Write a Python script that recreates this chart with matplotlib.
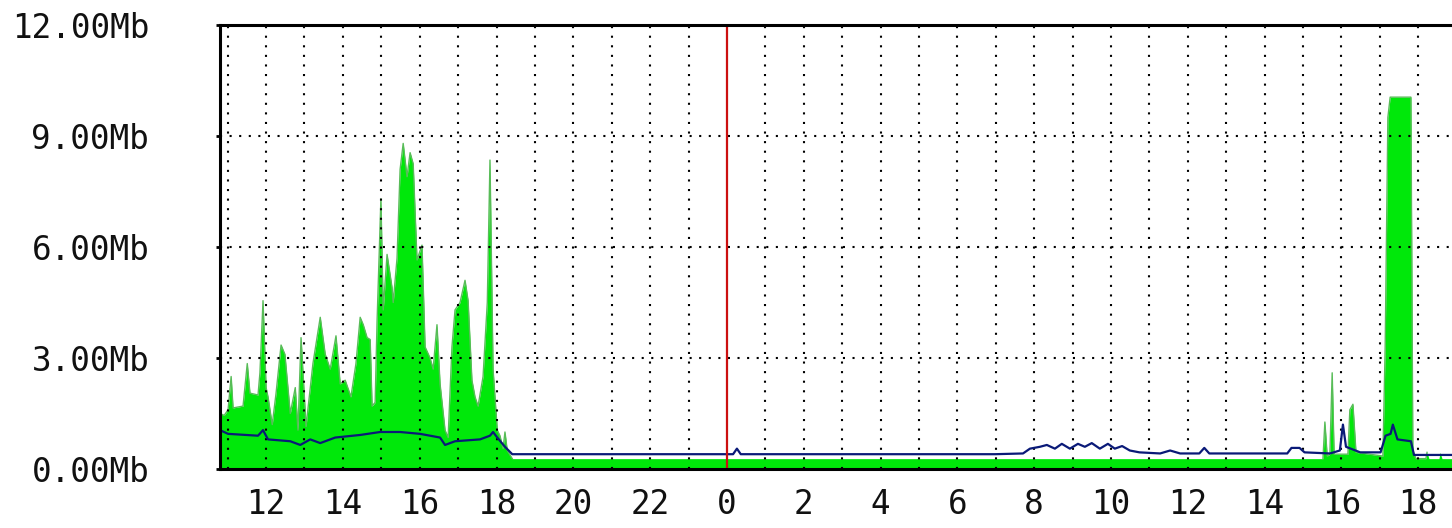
import matplotlib
matplotlib.use("Agg")
import matplotlib.pyplot as plt
from matplotlib.ticker import FixedLocator

# ---------------- data (hours since first midnight, Mb/s) ----------------
in_hours = [10.80, 10.91, 11.01, 11.09, 11.14, 11.40, 11.51, 11.58, 11.79, 11.84,
            11.92, 12.00, 12.05, 12.16, 12.26, 12.39, 12.49, 12.63, 12.76, 12.83,
            12.91, 13.04, 13.22, 13.41, 13.54, 13.67, 13.82, 13.93, 14.06, 14.21,
            14.34, 14.45, 14.53, 14.63, 14.71, 14.76, 14.84, 14.89, 14.99, 15.05,
            15.15, 15.28, 15.31, 15.41, 15.49, 15.57, 15.67, 15.75, 15.83, 15.93,
            16.06, 16.14, 16.27, 16.35, 16.45, 16.53, 16.66, 16.74, 16.84, 16.92,
            17.05, 17.18, 17.26, 17.36, 17.44, 17.52, 17.65, 17.76, 17.83, 17.91,
            18.02, 18.09, 18.17, 18.22, 18.28, 18.41,
            39.52, 39.57, 39.63, 39.70, 39.76, 39.81, 40.17, 40.22, 40.30, 40.38,
            41.08, 41.14, 41.21, 41.27, 41.34, 41.81, 41.86, 41.94,
            42.20, 42.23, 42.28, 42.54, 42.57, 42.62, 42.88]
in_mbps = [1.50, 1.45, 1.60, 2.50, 1.65, 1.70, 2.85, 2.05, 2.00, 2.60,
           4.55, 2.20, 1.95, 1.20, 2.05, 3.35, 3.10, 1.50, 2.20, 1.05,
           3.55, 1.15, 2.85, 4.10, 3.10, 2.70, 3.60, 2.30, 2.40, 1.95,
           2.85, 4.10, 3.90, 3.55, 3.50, 1.70, 1.80, 4.00, 7.30, 4.30,
           5.80, 4.90, 4.50, 5.70, 8.10, 8.80, 7.90, 8.55, 8.25, 5.65,
           6.05, 3.30, 3.00, 2.70, 3.90, 2.30, 1.05, 0.85, 3.30, 4.30,
           4.50, 5.10, 4.55, 2.40, 1.95, 1.70, 2.50, 4.50, 8.35, 2.70,
           1.05, 0.90, 0.55, 1.00, 0.50, 0.28,
           0.28, 1.27, 0.35, 0.40, 2.60, 0.40, 0.40, 1.60, 1.75, 0.45,
           0.35, 3.30, 9.50, 10.05, 10.05, 10.05, 0.50, 0.28,
           0.28, 0.45, 0.28, 0.28, 0.45, 0.28, 0.28]

out_hours = [10.80, 11.01, 11.79, 11.92, 12.05, 12.63, 12.89, 13.15, 13.41, 13.80,
             14.45, 14.97, 15.49, 16.01, 16.53, 16.66, 16.92, 17.57, 17.83, 17.91,
             18.02, 18.22, 18.41, 24.16, 24.26, 24.36, 30.98, 31.71, 31.89, 32.15,
             32.33, 32.54, 32.72, 32.93, 33.14, 33.32, 33.50, 33.71, 33.92, 34.10,
             34.29, 34.49, 34.74, 35.28, 35.54, 35.80, 36.30, 36.43, 36.56, 38.59,
             38.70, 38.91, 39.04, 39.70, 39.96, 40.04, 40.12, 40.49, 41.02, 41.15,
             41.28, 41.34, 41.46, 41.81, 41.89, 42.88]
out_mbps = [1.05, 0.95, 0.90, 1.05, 0.80, 0.75, 0.65, 0.80, 0.70, 0.85,
            0.92, 1.00, 1.00, 0.95, 0.85, 0.65, 0.75, 0.80, 0.90, 1.00,
            0.85, 0.60, 0.40, 0.40, 0.55, 0.40, 0.40, 0.42, 0.55, 0.60,
            0.65, 0.55, 0.68, 0.55, 0.68, 0.60, 0.70, 0.55, 0.68, 0.55,
            0.62, 0.50, 0.45, 0.42, 0.50, 0.42, 0.42, 0.57, 0.42, 0.42,
            0.57, 0.57, 0.45, 0.42, 0.50, 1.20, 0.60, 0.45, 0.45, 0.90,
            0.95, 1.20, 0.80, 0.75, 0.38, 0.38]

y_ticks = [0, 3, 6, 9, 12]
y_labels = ["0.00Mb", "3.00Mb", "6.00Mb", "9.00Mb", "12.00Mb"]
x_ticks = [12, 14, 16, 18, 20, 22, 24, 26, 28, 30, 32, 34, 36, 38, 40, 42]
x_labels = ["12", "14", "16", "18", "20", "22", "0", "2", "4", "6",
            "8", "10", "12", "14", "16", "18"]
midnight = 24

# ---------------- figure ----------------
fig = plt.figure(figsize=(14.52, 5.28), dpi=100)
ax = fig.add_axes([220 / 1452, 59 / 528, 1 - 220 / 1452, 444 / 528])
ax.set_xlim(10.80, 42.88)
ax.set_ylim(0, 12)

green = "#00e80a"
edge_green = "#58bc58"
blue = "#0a1a78"

ax.fill_between(in_hours, 0, in_mbps, color=green, lw=0, zorder=2)
# darker peak outline on the busy stretches only
ax.plot(in_hours[:76], in_mbps[:76], color=edge_green, lw=1.0, zorder=2.1)
ax.plot(in_hours[76:96], in_mbps[76:96], color=edge_green, lw=1.0, zorder=2.1)
ax.plot(out_hours, out_mbps, color=blue, lw=1.6, zorder=4)
ax.axvline(midnight, color="#cc1010", lw=1.6, zorder=5)

# dotted grid
dot = dict(color="black", lw=1.5, linestyle=(0, (1, 3.6)), dash_capstyle="butt", zorder=3)
for h in range(11, 43):
    if h != midnight:
        ax.axvline(h, **dot)
for v in y_ticks[1:-1]:
    ax.axhline(v, **dot)

ax.xaxis.set_major_locator(FixedLocator(x_ticks))
ax.set_xticklabels(x_labels)
ax.yaxis.set_major_locator(FixedLocator(y_ticks))
ax.set_yticklabels(y_labels)

for lab in ax.get_xticklabels() + ax.get_yticklabels():
    lab.set_fontfamily("DejaVu Sans Mono")
    lab.set_fontsize(23.5)
    lab.set_color("#111111")

ax.tick_params(axis="x", length=0, pad=14)
ax.tick_params(axis="y", length=3, width=2, direction="out", pad=48)

for s in ["left", "bottom", "top"]:
    ax.spines[s].set_linewidth(2.2)
    ax.spines[s].set_color("black")
    ax.spines[s].set_zorder(6)
ax.spines["right"].set_visible(False)

fig.savefig("out.png", dpi=100)
